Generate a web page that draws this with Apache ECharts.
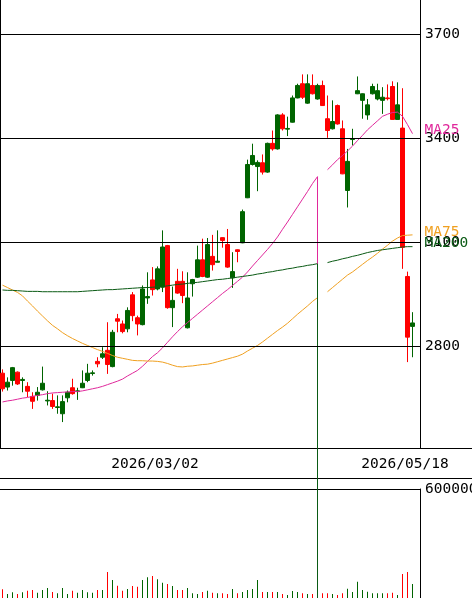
<!DOCTYPE html>
<html><head><meta charset="utf-8">
<script src="https://cdn.jsdelivr.net/npm/echarts@6/dist/echarts.min.js"></script>
<style>html,body{margin:0;padding:0;background:#fff;overflow:hidden}#c{width:472px;height:598px}</style>
</head><body><div id="c"></div>
<script>
const dates = ['2026/01/13','2026/01/14','2026/01/15','2026/01/16','2026/01/19','2026/01/20','2026/01/21','2026/01/22','2026/01/23','2026/01/26',
'2026/01/27','2026/01/28','2026/01/29','2026/01/30','2026/02/02','2026/02/03','2026/02/04','2026/02/05','2026/02/06','2026/02/09',
'2026/02/10','2026/02/12','2026/02/13','2026/02/16','2026/02/17','2026/02/18','2026/02/19','2026/02/20','2026/02/24','2026/02/25',
'2026/02/26','2026/02/27','2026/03/02','2026/03/03','2026/03/04','2026/03/05','2026/03/06','2026/03/09','2026/03/10','2026/03/11',
'2026/03/12','2026/03/13','2026/03/16','2026/03/17','2026/03/18','2026/03/19','2026/03/23','2026/03/24','2026/03/25','2026/03/26',
'2026/03/27','2026/03/30','2026/03/31','2026/04/01','2026/04/02','2026/04/03','2026/04/06','2026/04/07','2026/04/08','2026/04/09',
'2026/04/10','2026/04/13','2026/04/14','2026/04/15','2026/04/16','2026/04/17','2026/04/20','2026/04/21','2026/04/22','2026/04/23',
'2026/04/24','2026/04/27','2026/04/28','2026/04/30','2026/05/01','2026/05/07','2026/05/08','2026/05/11','2026/05/12','2026/05/13',
'2026/05/14','2026/05/15','2026/05/18'];
const opens = [2723,2683,2702,2726,2702,2685,2656,2659,2675,2643,
2644,2624,2606,2652,2681,2670,2681,2702,2722,2757,
2769,2789,2742,2880,2865,2851,2949,2883,2863,2940,
2992,2966,2971,3091,2912,2988,2988,2854,2981,3000,
3050,3000,3060,3043,3114,3094,2998,3079,3099,3229,
3325,3319,3330,3303,3386,3370,3468,3427,3447,3517,
3558,3502,3553,3514,3553,3457,3428,3495,3428,3250,
3397,3529,3510,3468,3529,3514,3510,3517,3550,3455,
3430,3002,2858];
const closes = [2678,2697,2739,2692,2705,2671,2642,2668,2694,2645,
2627,2626,2641,2668,2664,2672,2694,2723,2724,2750,
2779,2748,2841,2873,2843,2904,2889,2865,2966,2944,
2964,3024,3087,2912,2933,2954,2947,2940,2993,3050,
3002,3094,3036,3046,3106,3029,3016,3074,3189,3325,
3351,3331,3303,3386,3370,3468,3428,3429,3517,3553,
3519,3558,3529,3553,3495,3423,3449,3442,3298,3334,
3400,3538,3529,3497,3550,3538,3519,3515,3455,3497,
3086,2827,2868];
const lows = [2670,2673,2687,2689,2668,2654,2620,2644,2673,2630,
2620,2606,2582,2639,2661,2646,2680,2697,2716,2740,
2764,2721,2740,2841,2838,2841,2873,2832,2861,2923,
2947,2962,2957,2909,2856,2952,2925,2852,2944,2998,
3000,2998,3019,3043,3085,3027,2969,3043,3098,3228,
3322,3248,3296,3301,3365,3368,3423,3407,3446,3516,
3514,3500,3527,3512,3494,3402,3426,3440,3297,3201,
3380,3528,3457,3454,3527,3510,3471,3510,3455,3455,
3024,2755,2769];
const highs = [2734,2711,2741,2728,2711,2697,2668,2683,2742,2671,
2664,2659,2659,2673,2707,2681,2731,2750,2731,2769,
2798,2870,2848,2894,2875,2913,2957,2889,2976,3014,
3029,3031,3135,3093,2973,3024,3017,3014,2995,3091,
3111,3113,3122,3135,3115,3139,3072,3080,3195,3339,
3385,3337,3354,3388,3423,3470,3473,3463,3524,3558,
3585,3585,3585,3558,3567,3524,3510,3498,3452,3370,
3428,3579,3530,3514,3558,3558,3548,3556,3565,3562,
3545,3016,2899];
const volumes = [57800,32400,41600,32400,41600,50300,54000,39500,54000,64900,
43200,36200,64900,32400,50300,39500,54000,41600,39500,54000,
54000,151300,108100,77300,50300,59500,75700,71900,108100,122700,
129700,111900,93500,86500,75700,54000,54000,64900,36200,32400,
43200,50300,39500,36200,36200,32400,59000,36200,43200,54000,
59500,108100,43200,43200,43200,43200,32400,27000,48600,43200,
36200,32400,32400,40000,36200,36200,32400,27000,36200,61100,
43200,99100,54000,45000,36200,36200,36200,36200,39500,27000,
140500,151300,86500];
const ma25 = [2640,2643,2645,2648,2651,2653,2656,2659,2661,2664,
2666,2667,2668,2669,2670,2670,2672,2675,2678,2681,
2685,2690,2695,2700,2706,2715,2723,2731,2743,2757,
2771,2782,2796,2812,2828,2843,2857,2869,2881,2893,
2905,2917,2929,2941,2953,2964,2976,2988,3000,3015,
3032,3048,3064,3080,3097,3116,3138,3159,3181,3203,
3225,3247,3270,3290,null,3310,3324,3339,3351,3364,
3378,3394,3409,3425,3438,3451,3464,3470,3475,3476,
3464,3440,3414];
const ma75 = [2977,2970,2963,2956,2946,2931,2917,2902,2888,2874,
2861,2851,2840,2831,2823,2816,2809,2803,2797,2791,
2786,2780,2774,2769,2766,2763,2760,2759,2759,2758,
2758,2757,2755,2751,2746,2742,2741,2743,2744,2746,
2748,2749,2752,2756,2760,2764,2768,2772,2778,2787,
2795,2803,2813,2824,2835,2846,2856,2867,2880,2893,
2905,2917,2930,2941,null,2958,2970,2982,2994,3006,
3015,3026,3037,3048,3058,3069,3081,3092,3104,3113,
3120,3121,3122];
const ma200 = [2963,2962,2962,2961,2960,2959,2959,2959,2958,2958,
2958,2958,2958,2958,2958,2958,2959,2960,2961,2962,
2963,2964,2964,2965,2966,2967,2968,2969,2970,2970,
2971,2972,2973,2975,2977,2979,2980,2982,2984,2985,
2987,2989,2991,2993,2994,2996,2998,3000,3002,3004,
3006,3009,3011,3014,3016,3019,3021,3024,3026,3029,
3031,3034,3036,3039,null,3042,3046,3049,3053,3056,
3060,3063,3067,3071,3074,3077,3079,3081,3083,3085,
3087,3088,3088];
const priceTicks = [2800, 3100, 3400, 3700];
const dateTicks = ['2026/03/02', '2026/05/18'];
const gridDate = '2026/03/02';
const volumeMax = 600000;
const glitchIndex = 63;
const glitchFloor = 0;

const FONT = 'DejaVu Sans Mono';
const UP = '#006400', DOWN = '#ff0000';
const C25 = '#e0289b', C75 = '#f0a020', C200 = '#0a5a14';
const cats = dates.concat(['']);

const chart = echarts.init(document.getElementById('c'), null, {renderer: 'canvas'});
const txt = {color: '#000', fontFamily: FONT, fontSize: 14.5};

function maSeries(name, data, color) {
  return {type: 'line', name, data, xAxisIndex: 0, yAxisIndex: 0, symbol: 'none', showSymbol: false,
    connectNulls: false, silent: true, z: 3,
    lineStyle: {width: 1, color},
    endLabel: {show: true, formatter: name, color, fontFamily: FONT, fontSize: 14.5, distance: 12, offset: [0, -3]}};
}
function dropSeries(data, color) {
  return {type: 'line', data: [[glitchIndex, data[glitchIndex]], [glitchIndex, glitchFloor]],
    xAxisIndex: 0, yAxisIndex: 0, symbol: 'none', clip: false, silent: true, z: 3,
    lineStyle: {width: 1, color}};
}

chart.setOption({
  animation: false,
  backgroundColor: '#fff',
  grid: [
    {left: 0, top: 0, width: 420, height: 448, outerBoundsMode: 'none'},
    {left: 0, top: 489, width: 420, height: 111, outerBoundsMode: 'none'}
  ],
  graphic: [
    {type: 'line', shape: {x1: 0, y1: 448.5, x2: 472, y2: 448.5}, style: {stroke: '#000', lineWidth: 1}, silent: true},
    {type: 'line', shape: {x1: 0, y1: 478.5, x2: 472, y2: 478.5}, style: {stroke: '#000', lineWidth: 1}, silent: true}
  ],
  xAxis: [
    {gridIndex: 0, type: 'category', data: cats, boundaryGap: true,
      axisLine: {show: false}, axisTick: {show: false},
      axisLabel: Object.assign({interval: (i, v) => dateTicks.indexOf(v) >= 0, margin: 9, padding: [0, 15, 0, 0]}, txt),
      splitLine: {show: true, interval: (i, v) => v === gridDate, lineStyle: {color: '#000', width: 1}}},
    {gridIndex: 1, type: 'category', data: cats, boundaryGap: true, position: 'top',
      axisLine: {show: true, onZero: false, lineStyle: {color: '#000', width: 1}}, axisTick: {show: false},
      axisLabel: {show: false}, splitLine: {show: false}}
  ],
  yAxis: [
    {gridIndex: 0, type: 'value', position: 'right', min: 2507.2, max: 3799.5,
      axisLine: {show: true, lineStyle: {color: '#000', width: 1}}, axisTick: {show: false},
      splitLine: {show: false},
      axisLabel: Object.assign({customValues: priceTicks, margin: 5, formatter: v => String(v)}, txt)},
    {gridIndex: 1, type: 'value', position: 'right', min: 0, max: volumeMax, interval: volumeMax,
      axisLine: {show: true, lineStyle: {color: '#000', width: 1}}, axisTick: {show: false},
      splitLine: {show: false},
      axisLabel: Object.assign({showMinLabel: false, margin: 5, formatter: v => String(v)}, txt)}
  ],
  series: [
    {type: 'line', data: [], xAxisIndex: 0, yAxisIndex: 0, silent: true, z: 1,
      markLine: {silent: true, symbol: ['none', 'none'], label: {show: false}, animation: false,
        lineStyle: {color: '#000', width: 1, type: 'solid'},
        emphasis: {disabled: true},
        data: priceTicks.map(v => ({yAxis: v}))}},
    {type: 'candlestick', xAxisIndex: 0, yAxisIndex: 0, barWidth: 4, silent: true, z: 2,
      data: opens.map((o, i) => [o, closes[i], lows[i], highs[i]]),
      itemStyle: {color: UP, color0: DOWN, borderColor: UP, borderColor0: DOWN, borderWidth: 1}},
    maSeries('MA25', ma25, C25),
    maSeries('MA75', ma75, C75),
    maSeries('MA200', ma200, C200),
    dropSeries(ma25, C25),
    dropSeries(ma75, C75),
    dropSeries(ma200, C200),
    {type: 'bar', xAxisIndex: 1, yAxisIndex: 1, barWidth: 1, silent: true,
      data: volumes.map((v, i) => ({value: v, itemStyle: {color: closes[i] >= opens[i] ? UP : DOWN}}))}
  ]
});
</script></body></html>
